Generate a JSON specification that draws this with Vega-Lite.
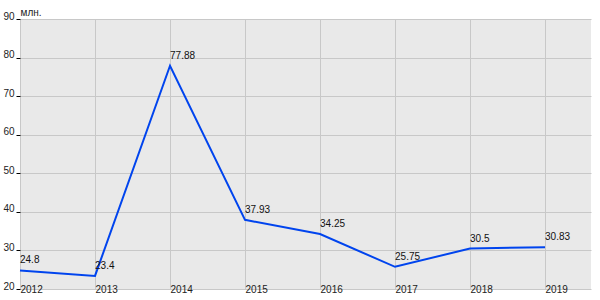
{
  "$schema": "https://vega.github.io/schema/vega-lite/v6.json",
  "width": 571,
  "height": 270,
  "autosize": {"type": "none"},
  "padding": {"left": 20, "top": 19, "right": 9, "bottom": 11},
  "background": "white",
  "config": {
    "view": {"stroke": null, "fill": "#e9e9e9"},
    "font": "Liberation Sans",
    "axis": {"labelFont": "Liberation Sans", "labelFontSize": 10, "labelColor": "#222", "gridColor": "#c8c8c8", "gridOpacity": 1, "gridWidth": 1}
  },
  "data": {
    "values": [
      {"year": 2012, "value": 24.8},
      {"year": 2013, "value": 23.4},
      {"year": 2014, "value": 77.88},
      {"year": 2015, "value": 37.93},
      {"year": 2016, "value": 34.25},
      {"year": 2017, "value": 25.75},
      {"year": 2018, "value": 30.5},
      {"year": 2019, "value": 30.83}
    ]
  },
  "encoding": {
    "x": {
      "field": "year", "type": "quantitative",
      "scale": {"domain": [2012, 2019.613], "nice": false, "zero": false},
      "axis": {"values": [2012, 2013, 2014, 2015, 2016, 2017, 2018, 2019], "format": "d", "title": null, "domain": false, "ticks": false, "tickSize": 0, "labelAlign": "left", "labelBaseline": "top", "labelPadding": 3, "offset": -8, "grid": true, "labelFlush": false, "labelOverlap": false}
    },
    "y": {
      "field": "value", "type": "quantitative",
      "scale": {"domain": [20, 90], "nice": false, "zero": false},
      "axis": {"values": [20, 30, 40, 50, 60, 70, 80, 90], "title": "млн.", "titleAngle": 0, "titleAlign": "left", "titleBaseline": "alphabetic", "titleX": 0, "titleY": -4, "titleFontSize": 10, "titleFontWeight": "normal", "titleColor": "#222", "titleFont": "Liberation Sans", "domain": false, "ticks": true, "tickColor": "#000", "tickSize": 4, "labelPadding": 2, "labelBaseline": "alphabetic", "labelFlush": false, "grid": true}
    }
  },
  "layer": [
    {
      "data": {"values": [{}]},
      "mark": {"type": "rect", "color": "white"},
      "encoding": {"x": {"value": 0}, "x2": {"value": 571}, "y": {"datum": 22.25}, "y2": {"datum": 19}}
    },
    {
      "data": {"values": [{}]},
      "mark": {"type": "rule", "color": "#c8c8c8", "strokeWidth": 1},
      "encoding": {"y": {"datum": 20}}
    },
    {
      "mark": {"type": "line", "color": "#0044ee", "strokeWidth": 2}
    },
    {
      "mark": {"type": "text", "align": "left", "baseline": "alphabetic", "dy": -7, "fontSize": 10, "color": "#111", "font": "Liberation Sans"},
      "encoding": {"text": {"field": "value", "type": "quantitative"}}
    },
    {
      "data": {"values": [{}]},
      "mark": {"type": "rule", "color": "#000", "strokeWidth": 1.2},
      "encoding": {"y": {"datum": 22.25}}
    },
    {
      "data": {"values": [{}]},
      "mark": {"type": "rule", "color": "#000", "strokeWidth": 1.2},
      "encoding": {"x": {"datum": 2012}, "y": {"datum": 90}, "y2": {"datum": 22.25}}
    }
  ]
}
